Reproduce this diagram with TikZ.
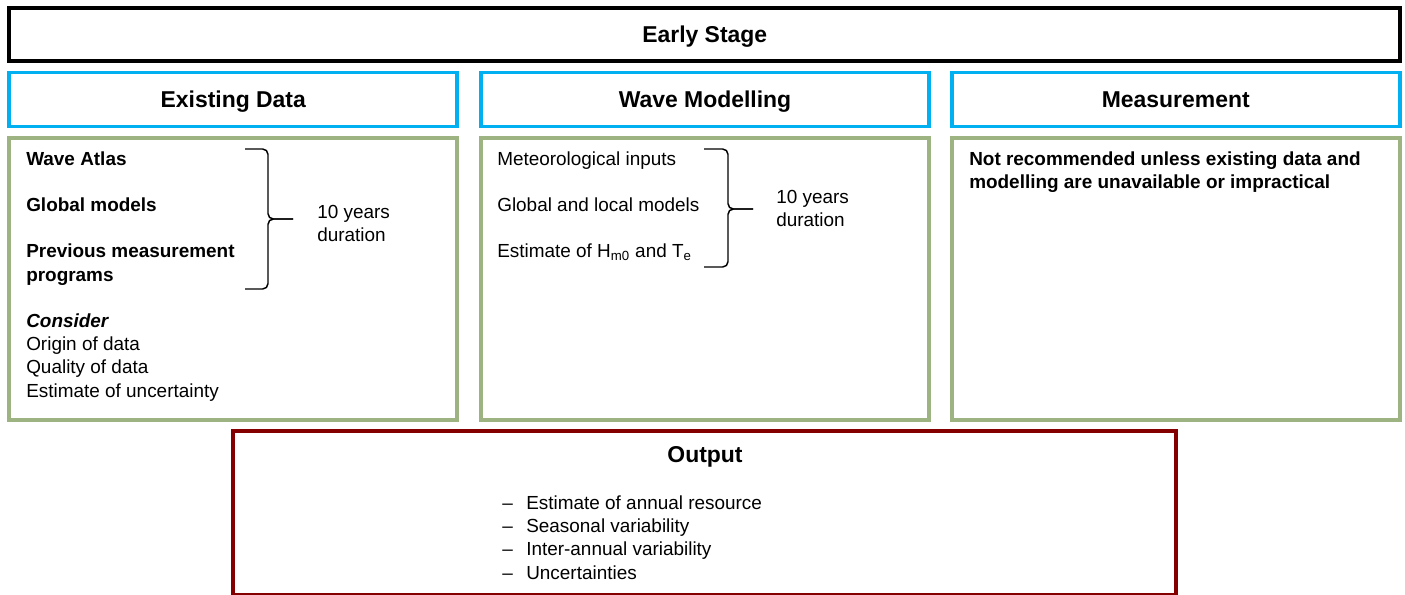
\documentclass[tikz,border=0pt]{standalone}
\usepackage{fontspec}
\setmainfont{Liberation Sans}
\definecolor{hdblue}{RGB}{0,176,240}
\definecolor{bodygreen}{RGB}{157,179,130}
\definecolor{outred}{RGB}{132,0,0}
\tikzset{
  box/.style={draw,line width=3pt,inner sep=0pt},
  hd/.style={box,draw=hdblue,line width=2.7pt,minimum width=336pt,minimum height=40.5pt,
    font=\fontsize{17.2}{20}\selectfont\bfseries,text depth=0pt},
  bodybox/.style={box,draw=bodygreen,minimum width=336pt,minimum height=211.5pt},
  txt/.style={anchor=base west,inner sep=0pt,font=\fontsize{14.2}{17}\selectfont},
  bold/.style={txt,font=\fontsize{14.2}{17}\selectfont\bfseries},
  brace/.style={line width=1.1pt,rounded corners=4pt}
}
\begin{document}
\begin{tikzpicture}[x=0.75pt,y=-0.75pt]
\useasboundingbox (0,0) rectangle (1405,594);
\path (704.75,34.5) node[box,minimum width=1042.9pt,minimum height=39.75pt,
        font=\fontsize{17.2}{20}\selectfont\bfseries,text depth=0pt](early){Early Stage};
\path (233.25,99.3) node[hd](exhd){Existing Data}
      (705,99.3) node[hd](wmhd){Wave Modelling}
      (1175.75,99.3) node[hd](mshd){Measurement};
\path (233.25,279) node[bodybox](exbox){}
      (705,279) node[bodybox](wmbox){}
      (1175.75,279) node[bodybox](msbox){};
\path (704.75,512.9) node[box,draw=outred,minimum width=706.9pt,minimum height=122.4pt](outbox){};
% existing data
\path (26,165) node[bold](atlas){Wave Atlas}
      (26,211.4) node[bold](glob){Global models}
      (26,257.8) node[bold](prev){Previous measurement}
      (26,281) node[bold](prog){programs}
      (26,327.4) node[txt,font=\fontsize{14.2}{17}\selectfont\bfseries\itshape](cons){Consider}
      (26,350.6) node[txt](orig){Origin of data}
      (26,373.8) node[txt](qual){Quality of data}
      (26,397) node[txt](unc){Estimate of uncertainty}
      (317,218.5) node[txt](exyr){10 years}
      (317,241.5) node[txt](exdur){duration};
\draw[brace] (245,149) -- (268,149) -- (268,219) -- (293,219);
\draw[brace] (245,289) -- (268,289) -- (268,219) -- (293,219);
% wave modelling
\path (497,165) node[txt](met){Meteorological inputs}
      (497,211.4) node[txt](loc){Global and local models}
      (497,257.8) node[txt](est){Estimate of H\textsubscript{m0} and T\textsubscript{e}}
      (776,203.3) node[txt](wmyr){10 years}
      (776,226.5) node[txt](wmdur){duration};
\draw[brace] (704,149) -- (728,149) -- (728,209) -- (753,209);
\draw[brace] (704,267) -- (728,267) -- (728,209) -- (753,209);
% measurement
\path (969,165) node[bold](nrec){Not recommended unless existing data and}
      (969,188.2) node[bold](nrec2){modelling are unavailable or impractical};
% output
\path (705,462) node[anchor=base,inner sep=0pt,font=\fontsize{17.2}{20}\selectfont\bfseries](outhd){Output};
\foreach \t [count=\i] in {Estimate of annual resource,Seasonal variability,Inter-annual variability,Uncertainties}{
  \path (502,486.2+23.2*\i) node[txt](d\i){--}
        (526,486.2+23.2*\i) node[txt](o\i){\t};
}
\end{tikzpicture}
\end{document}
